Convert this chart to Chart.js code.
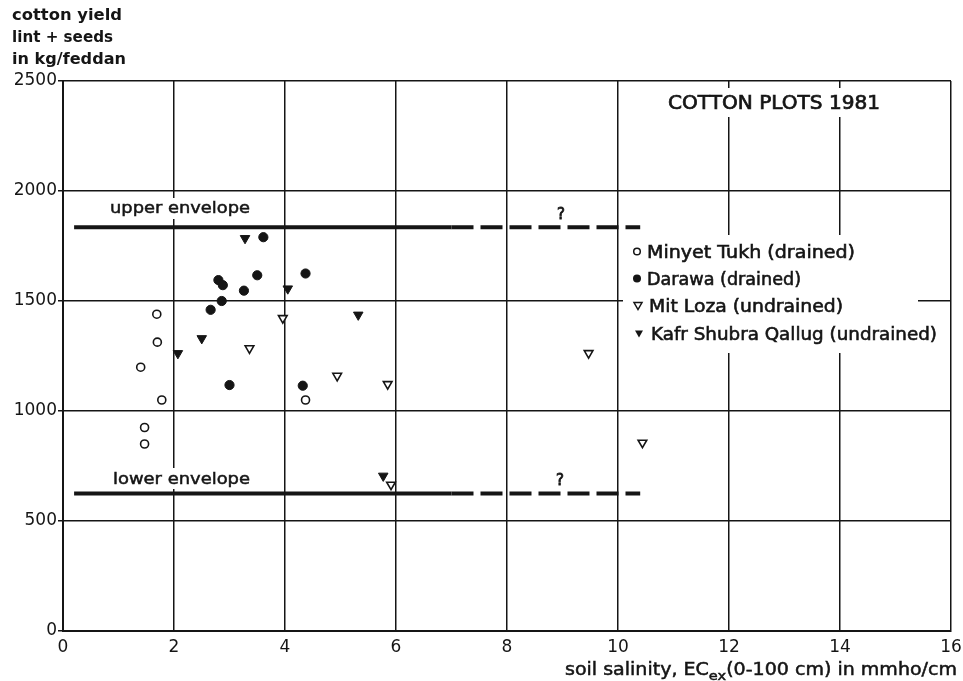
<!DOCTYPE html>
<html>
<head>
<meta charset="utf-8">
<script src="https://cdn.jsdelivr.net/npm/chart.js@4.4.1/dist/chart.umd.min.js"></script>
<style>
  html, body { margin: 0; padding: 0; background: #fff; }
  #c { display: block; }
</style>
</head>
<body>
<canvas id="c" width="963" height="681"></canvas>
<script>
// Axis ticks
const salinityTicks = [0, 2, 4, 6, 8, 10, 12, 14, 16];
const yieldTicks = [0, 500, 1000, 1500, 2000, 2500];

// Plot series: soil salinity EC (mmho/cm) and cotton yield (kg/feddan)
const minyetTukhEC    = [1.69, 1.70, 1.40, 1.78, 1.47, 1.47, 4.37];
const minyetTukhYield = [1440, 1313, 1199, 1050, 925, 850, 1050];

const darawaEC    = [3.61, 3.50, 4.37, 2.80, 2.88, 3.26, 2.86, 2.66, 3.00, 4.32];
const darawaYield = [1790, 1617, 1625, 1595, 1572, 1547, 1500, 1460, 1118, 1115];

const mitLozaEC    = [3.96, 3.36, 4.94, 5.85, 9.47, 10.44, 5.91];
const mitLozaYield = [1422, 1285, 1160, 1122, 1263, 856, 665];

const kafrShubraEC    = [3.28, 4.05, 5.32, 2.50, 2.07, 5.77];
const kafrShubraYield = [1785, 1556, 1437, 1330, 1262, 705];

// Envelopes: solid up to the middle point, dashed (uncertain) beyond it
const upperEnvelopeEC    = [0.2, 7.0, 10.4];
const upperEnvelopeYield = [1835, 1835, 1835];
const lowerEnvelopeEC    = [0.2, 7.0, 10.4];
const lowerEnvelopeYield = [625, 625, 625];

const seriesLabels = [
  'Minyet Tukh (drained)',
  'Darawa (drained)',
  'Mit Loza (undrained)',
  'Kafr Shubra Qallug (undrained)'
];

const INK = '#151515';
const FONT = '"DejaVu Sans", sans-serif';

function pairs(xs, ys) { return xs.map((x, i) => ({ x: x, y: ys[i] })); }

// Draw text stretched horizontally to a given width, slightly heavier
function fitText(ctx, s, left, baseline, font, width, weight) {
  ctx.save();
  ctx.font = font;
  ctx.textAlign = 'left';
  ctx.textBaseline = 'alphabetic';
  const w = ctx.measureText(s).width;
  const sx = width ? width / w : 1;
  ctx.translate(left, baseline);
  ctx.scale(sx, 1);
  ctx.fillStyle = INK;
  ctx.fillText(s, 0, 0);
  if (weight) {
    ctx.strokeStyle = INK;
    ctx.lineWidth = weight;
    ctx.strokeText(s, 0, 0);
  }
  ctx.restore();
}

function whiteBox(ctx, x0, y0, x1, y1) {
  ctx.save();
  ctx.fillStyle = '#fff';
  ctx.fillRect(x0, y0, x1 - x0, y1 - y0);
  ctx.restore();
}

function marker(ctx, kind, x, y) {
  ctx.save();
  ctx.fillStyle = INK;
  ctx.strokeStyle = INK;
  ctx.lineWidth = 1.5;
  ctx.beginPath();
  if (kind === 'openCircle') {
    ctx.arc(x, y, 3.3, 0, Math.PI * 2);
    ctx.stroke();
  } else if (kind === 'dot') {
    ctx.arc(x, y, 4, 0, Math.PI * 2);
    ctx.fill();
  } else {
    ctx.moveTo(x - 4, y - 3);
    ctx.lineTo(x + 4, y - 3);
    ctx.lineTo(x, y + 4);
    ctx.closePath();
    if (kind === 'openTri') ctx.stroke(); else ctx.fill();
  }
  ctx.restore();
}

const annotations = {
  id: 'annotations',
  beforeDatasetsDraw(chart) {
    const ctx = chart.ctx;
    // labels that sit over the grid on a white ground
    whiteBox(ctx, 104, 198, 258, 219);
    fitText(ctx, 'upper envelope', 110, 213, '16px ' + FONT, 140, 0.5);
    whiteBox(ctx, 106, 468, 256, 489);
    fitText(ctx, 'lower envelope', 113, 484, '16px ' + FONT, 137, 0.5);

    fitText(ctx, '?', 557, 219, '15px ' + FONT, 0, 0.8);
    fitText(ctx, '?', 556, 485, '15px ' + FONT, 0, 0.8);

    whiteBox(ctx, 660, 88, 892, 117);
    fitText(ctx, 'COTTON PLOTS 1981', 668, 109, '19px ' + FONT, 212, 0.7);

    // legend
    whiteBox(ctx, 623, 235, 918, 353);
    const kinds = ['openCircle', 'dot', 'openTri', 'filledTri'];
    const rows = [
      { left: 647, base: 258, w: 208, mx: 637 },
      { left: 647, base: 285, w: 154, mx: 637 },
      { left: 649, base: 312, w: 194, mx: 638 },
      { left: 651, base: 340, w: 286, mx: 639 }
    ];
    rows.forEach((r, i) => {
      marker(ctx, kinds[i], r.mx, r.base - 6.5);
      fitText(ctx, chart.data.datasets[i].label, r.left, r.base, '18px ' + FONT, r.w, 0.6);
    });
  },
  afterDraw(chart) {
    const ctx = chart.ctx;
    // y axis title
    fitText(ctx, 'cotton yield', 12, 20, 'bold 15px ' + FONT, 110);
    fitText(ctx, 'lint + seeds', 12, 42, 'bold 15px ' + FONT, 101);
    fitText(ctx, 'in kg/feddan', 12, 64, 'bold 15px ' + FONT, 114);

    // x axis title with subscript
    const main = '17px ' + FONT, sub = '13px ' + FONT;
    const parts = [
      { s: 'soil salinity, EC', f: main, dy: 0 },
      { s: 'ex', f: sub, dy: 5 },
      { s: '(0-100 cm) in mmho/cm', f: main, dy: 0 }
    ];
    ctx.save();
    let total = 0;
    parts.forEach(p => { ctx.font = p.f; p.w = ctx.measureText(p.s).width; total += p.w; });
    const sx = 392 / total;
    ctx.translate(565, 675);
    ctx.scale(sx, 1);
    ctx.fillStyle = INK;
    ctx.strokeStyle = INK;
    ctx.lineWidth = 0.5;
    ctx.textBaseline = 'alphabetic';
    let x = 0;
    parts.forEach(p => {
      ctx.font = p.f;
      ctx.fillText(p.s, x, p.dy);
      ctx.strokeText(p.s, x, p.dy);
      x += p.w;
    });
    ctx.restore();
  }
};

const pointBase = { showLine: false, borderColor: INK, pointBorderColor: INK, pointHoverRadius: 5 };
const plainNumber = v => String(v);

new Chart(document.getElementById('c'), {
  type: 'scatter',
  data: {
    datasets: [
      Object.assign({}, pointBase, {
        label: seriesLabels[0], data: pairs(minyetTukhEC, minyetTukhYield),
        pointStyle: 'circle', pointRadius: 4, pointBorderWidth: 1.6,
        pointBackgroundColor: '#fff'
      }),
      Object.assign({}, pointBase, {
        label: seriesLabels[1], data: pairs(darawaEC, darawaYield),
        pointStyle: 'circle', pointRadius: 4.6, pointBorderWidth: 1,
        pointBackgroundColor: INK
      }),
      Object.assign({}, pointBase, {
        label: seriesLabels[2], data: pairs(mitLozaEC, mitLozaYield),
        pointStyle: 'triangle', pointRotation: 180, pointRadius: 5, pointBorderWidth: 1.6,
        pointBackgroundColor: '#fff'
      }),
      Object.assign({}, pointBase, {
        label: seriesLabels[3], data: pairs(kafrShubraEC, kafrShubraYield),
        pointStyle: 'triangle', pointRotation: 180, pointRadius: 5.5, pointBorderWidth: 1,
        pointBackgroundColor: INK
      }),
      {
        label: 'upper envelope', data: pairs(upperEnvelopeEC, upperEnvelopeYield),
        showLine: true, pointRadius: 0, borderColor: INK, borderWidth: 4,
        segment: { borderDash: c => c.p0DataIndex >= 1 ? [22, 7] : undefined }
      },
      {
        label: 'lower envelope', data: pairs(lowerEnvelopeEC, lowerEnvelopeYield),
        showLine: true, pointRadius: 0, borderColor: INK, borderWidth: 4,
        segment: { borderDash: c => c.p0DataIndex >= 1 ? [22, 7] : undefined }
      }
    ]
  },
  options: {
    responsive: false,
    devicePixelRatio: 1,
    animation: false,
    layout: { padding: { top: 81, right: 12, bottom: 0, left: 0 } },
    plugins: { legend: { display: false }, tooltip: { enabled: false } },
    scales: {
      x: {
        type: 'linear', min: 0, max: 16,
        afterBuildTicks: s => { s.ticks = salinityTicks.map(v => ({ value: v })); },
        afterFit: s => { s.height = 50; s.paddingLeft = 0; s.paddingRight = 0; },
        grid: { color: INK, lineWidth: 1.5, drawTicks: false },
        border: { color: INK, width: 2 },
        ticks: { color: INK, font: { family: FONT, size: 17 }, padding: 6, maxRotation: 0, callback: plainNumber }
      },
      y: {
        type: 'linear', min: 0, max: 2500,
        afterBuildTicks: s => { s.ticks = yieldTicks.map(v => ({ value: v })); },
        afterFit: s => { s.width = 63; s.paddingTop = 0; s.paddingBottom = 0; },
        grid: { color: INK, lineWidth: 1.5, drawTicks: true, tickLength: 5 },
        border: { color: INK, width: 2 },
        ticks: { color: INK, font: { family: FONT, size: 17 }, padding: 1, callback: plainNumber }
      }
    }
  },
  plugins: [annotations]
});
</script>
</body>
</html>
